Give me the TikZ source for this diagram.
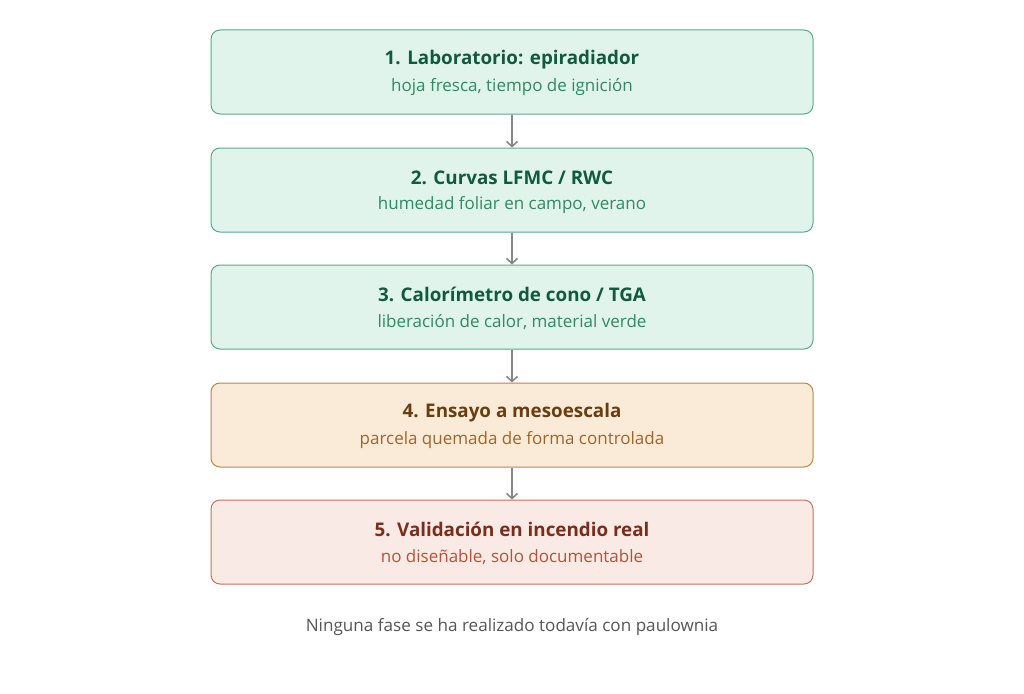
\documentclass[tikz,border=0pt]{standalone}
\usepackage{fontspec}
\setmainfont{Open Sans}
\usetikzlibrary{arrows.meta}
\definecolor{gfill}{HTML}{E1F4EC}
\definecolor{gdraw}{HTML}{5AAA88}
\definecolor{gtitle}{HTML}{0F5A40}
\definecolor{gsub}{HTML}{2E8A64}
\definecolor{ofill}{HTML}{FAEBD8}
\definecolor{odraw}{HTML}{B8874A}
\definecolor{otitle}{HTML}{6A3D0E}
\definecolor{osub}{HTML}{A0652A}
\definecolor{rfill}{HTML}{F9EAE5}
\definecolor{rdraw}{HTML}{C6725E}
\definecolor{rtitle}{HTML}{7A2E1A}
\definecolor{rsub}{HTML}{B2533A}
\definecolor{arrowgray}{HTML}{878787}
\definecolor{capgray}{HTML}{555555}
\begin{document}
\begin{tikzpicture}[x=1pt,y=-1pt,
  stagebox/.style={rounded corners=9pt, line width=1pt, minimum width=602pt, minimum height=84pt, inner sep=0pt},
  gbox/.style={stagebox, fill=gfill, draw=gdraw},
  obox/.style={stagebox, fill=ofill, draw=odraw},
  rbox/.style={stagebox, fill=rfill, draw=rdraw},
  ttl/.style={font=\fontsize{18.8}{22}\selectfont\bfseries, inner sep=0pt},
  sub/.style={font=\fontsize{17}{19}\selectfont, inner sep=0pt},
  flow/.style={draw=arrowgray, line width=1.8pt, -{Straight Barb[length=5pt,width=11pt,line width=1.6pt]}}
]
\useasboundingbox (0,0) rectangle (1024,693);
\fill[white] (0,0) rectangle (1024,693);

\node[gbox] (b1) at (512,72) {};
\node[gbox] (b2) at (512,190) {};
\node[gbox] (b3) at (512,307) {};
\node[obox] (b4) at (512,425) {};
\node[rbox] (b5) at (512,542) {};

\node[ttl, text=gtitle] (t1) at ([yshift=12.5pt]b1.center) {1. Laboratorio: epiradiador};
\node[sub, text=gsub] (s1) at ([yshift=-15pt]b1.center) {hoja fresca, tiempo de ignición};
\node[ttl, text=gtitle] (t2) at ([yshift=12.5pt]b2.center) {2. Curvas LFMC / RWC};
\node[sub, text=gsub] (s2) at ([yshift=-15pt]b2.center) {humedad foliar en campo, verano};
\node[ttl, text=gtitle] (t3) at ([yshift=12.5pt]b3.center) {3. Calorímetro de cono / TGA};
\node[sub, text=gsub] (s3) at ([yshift=-15pt]b3.center) {liberación de calor, material verde};
\node[ttl, text=otitle] (t4) at ([yshift=12.5pt]b4.center) {4. Ensayo a mesoescala};
\node[sub, text=osub] (s4) at ([yshift=-15pt]b4.center) {parcela quemada de forma controlada};
\node[ttl, text=rtitle] (t5) at ([yshift=12.5pt]b5.center) {5. Validación en incendio real};
\node[sub, text=rsub] (s5) at ([yshift=-15pt]b5.center) {no diseñable, solo documentable};

\draw[flow] (b1.south) -- (b2.north);
\draw[flow] (b2.south) -- (b3.north);
\draw[flow] (b3.south) -- (b4.north);
\draw[flow] (b4.south) -- (b5.north);

\node[sub, text=capgray, font=\fontsize{17.1}{19}\selectfont] (cap) at (512,627) {Ninguna fase se ha realizado todavía con paulownia};
\end{tikzpicture}
\end{document}
